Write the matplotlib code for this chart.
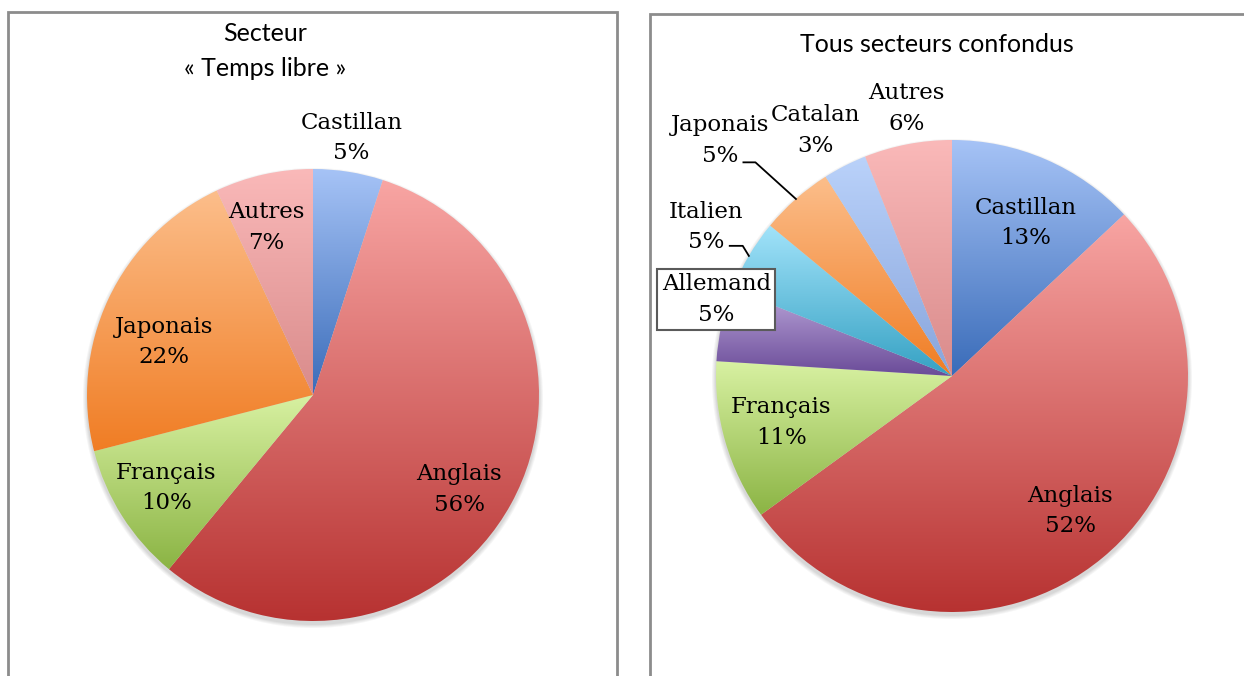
import numpy as np
import matplotlib
matplotlib.use("Agg")
import matplotlib.pyplot as plt
from matplotlib.colors import LinearSegmentedColormap
from matplotlib.patches import Rectangle, Circle

# left pie: "Temps libre" sector
left_labels = ["Castillan", "Anglais", "Français", "Japonais", "Autres"]
left_values = [5, 56, 10, 22, 7]

# right pie: all sectors
right_labels = ["Castillan", "Anglais", "Français", "Allemand", "Italien",
                "Japonais", "Catalan", "Autres"]
right_values = [13, 52, 11, 5, 5, 5, 3, 6]

# (light top, dark bottom) gradient per language
grad = {
    "Castillan": ("#a6c3f6", "#3a6cb9"),
    "Anglais": ("#f8a5a3", "#b73231"),
    "Français": ("#d8f1a2", "#8bb444"),
    "Japonais": ("#fcbe8b", "#f07d24"),
    "Autres": ("#fab9b9", "#d98b8b"),
    "Allemand": ("#bba6da", "#6a4b98"),
    "Italien": ("#a2e3fa", "#35a1c3"),
    "Catalan": ("#bad2fa", "#88a5dc"),
}

W, H = 1244, 676
fig = plt.figure(figsize=(W / 100, H / 100), dpi=100)
ax = fig.add_axes([0, 0, 1, 1])

SERIF = "DejaVu Serif"
SANS = "Lato"


def gradient_pie(labels, values, cx, cy, r):
    # soft shadow
    for k, a in enumerate([0.06, 0.06, 0.07, 0.08]):
        ax.add_patch(Circle((cx, cy - 3), r + 4 - k, color="#606060", alpha=a, lw=0, zorder=1))
    wedges, _ = ax.pie(values, startangle=90, counterclock=False, center=(cx, cy),
                       radius=r, wedgeprops=dict(linewidth=0), normalize=True)
    for lab, w in zip(labels, wedges):
        t = np.radians(np.linspace(w.theta1, w.theta2, 200))
        xs = np.concatenate([[cx], cx + r * np.cos(t)])
        ys = np.concatenate([[cy], cy + r * np.sin(t)])
        light, dark = grad[lab]
        cmap = LinearSegmentedColormap.from_list(lab, [dark, light])
        g = np.linspace(0, 1, 256).reshape(-1, 1)
        w.set_facecolor("none")
        w.set_zorder(2)
        im = ax.imshow(g, cmap=cmap, origin="lower", aspect="auto", zorder=2,
                       extent=(xs.min(), xs.max(), ys.min(), ys.max()), interpolation="bilinear")
        im.set_clip_path(w)
    return wedges


def put_labels(wedges, labels, values, cx, cy, r, place, boxed=()):
    # place: (distance factor, angle nudge in degrees) per label
    pos = {}
    for w, lab, v, (f, da) in zip(wedges, labels, values, place):
        mid = np.radians((w.theta1 + w.theta2) / 2)
        a = mid + np.radians(da)
        x, y = cx + f * r * np.cos(a), cy + f * r * np.sin(a)
        bbox = None
        if lab in boxed:
            bbox = dict(boxstyle="square,pad=0.2", fc="white", ec="#5a5a5a", lw=1.5)
        ax.text(x, y, f"{lab}\n{v}%", ha="center", va="center", fontsize=16.5,
                family=SERIF, linespacing=1.5, zorder=5, bbox=bbox)
        pos[lab] = (x, y, mid)
    return pos


# frames
ax.add_patch(Rectangle((8, -20), 609, H - 12 + 20, fill=False, ec="#8c8c8c", lw=2, zorder=0))
ax.add_patch(Rectangle((650, -20), 620, H - 14 + 20, fill=False, ec="#8c8c8c", lw=2, zorder=0))

# left pie
lcx, lcy, lr = 313, H - 395, 226
lw_ = gradient_pie(left_labels, left_values, lcx, lcy, lr)
put_labels(lw_, left_labels, left_values, lcx, lcy, lr,
           [(1.15, 0.5), (0.77, -4), (0.77, 0), (0.70, 5.7), (0.77, 3)])
ax.text(265, H - 51, "Secteur\n« Temps libre »", ha="center", va="center",
        fontsize=18, family=SANS, linespacing=1.65)

# right pie
rcx, rcy, rr = 952, H - 376, 236
rw = gradient_pie(right_labels, right_values, rcx, rcy, rr)
pos = put_labels(rw, right_labels, right_values, rcx, rcy, rr,
                 [(0.72, -2.3), (0.76, 1.6), (0.75, -0.9), (1.05, -5.4),
                  (1.22, -0.6), (1.40, 3.1), (1.19, 2), (1.15, -1.1)],
                 boxed=["Allemand"])
ax.text(937, H - 45, "Tous secteurs confondus", ha="center", va="center",
        fontsize=18, family=SANS)

# leader lines for small slices
for lab, (dx0, dx1, dy) in {"Japonais": (23, 35, -22), "Italien": (24, 37, -19)}.items():
    x, y, a = pos[lab]
    ex, ey = rcx + rr * np.cos(a), rcy + rr * np.sin(a)
    ax.plot([x + dx0, x + dx1, ex], [y + dy, y + dy, ey], color="black", lw=1.3, zorder=4)

ax.set_xlim(0, W)
ax.set_ylim(0, H)
ax.set_aspect("auto")
ax.axis("off")
fig.savefig("out.png", dpi=100)
